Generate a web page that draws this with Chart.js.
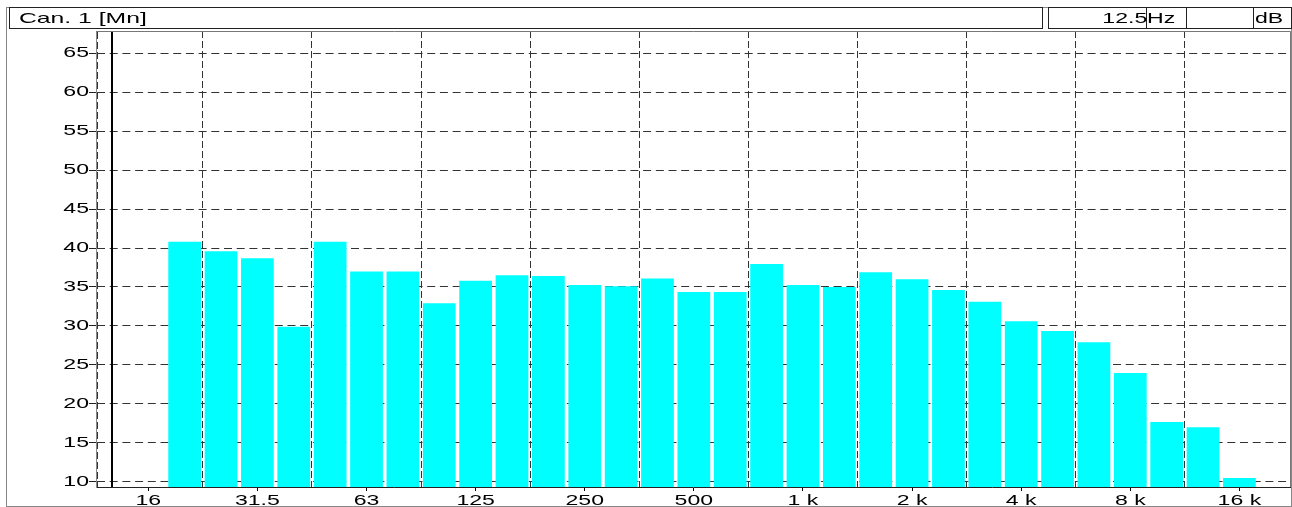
<!DOCTYPE html>
<html>
<head>
<meta charset="utf-8">
<script src="https://cdn.jsdelivr.net/npm/chart.js@4.4.1/dist/chart.umd.min.js"></script>
<style>
  body { margin: 0; background: #fff; font-family: "Liberation Sans", Arial, sans-serif; color: #000; }
  #chart { position: absolute; left: 0; top: 0; }
  #frame { position: absolute; left: 6px; top: 7px; width: 1286px; height: 500px; box-sizing: border-box; border: 1px solid #888; }
  .box { position: absolute; top: 7px; height: 22px; box-sizing: border-box; border: 1px solid #222; }
  .txt { position: absolute; top: 8px; line-height: 20px; font-size: 14px; white-space: nowrap; }
  /* the text in the picture is drawn wide */
  .wide { transform: scaleX(1.648); transform-origin: 0 0; }
  .wide-r { transform: scaleX(1.648); transform-origin: 100% 0; }
</style>
</head>
<body>
<canvas id="chart" width="1292" height="507"></canvas>
<div id="frame"></div>
<div class="box" style="left:9px;width:1034px;"></div>
<div class="box" style="left:1048px;width:139px;"></div>
<div class="box" style="left:1186px;width:68px;"></div>
<div class="box" style="left:1253px;width:39px;"></div>
<div style="position:absolute;left:1146px;top:7px;width:1px;height:22px;background:#222;"></div>
<div class="txt wide" style="left:19px;font-size:15px;">Can. 1 [Mn]</div>
<div class="txt wide-r" style="right:145px;">12.5</div>
<div class="txt wide" style="left:1147px;">Hz</div>
<div class="txt wide" style="left:1255px;">dB</div>
<script>
// 1/3 octave bands, 12.5 Hz .. 20 kHz
const bands = ['12.5', '16', '20', '25', '31.5', '40', '50', '63', '80', '100', '125', '160', '200', '250', '315', '400', '500', '630', '800',
  '1k', '1.25k', '1.6k', '2k', '2.5k', '3.15k', '4k', '5k', '6.3k', '8k', '10k', '12.5k', '16k', '20k'];
// dB levels (Mn)
const levels = [null, null, 40.8, 39.6, 38.7, 29.9, 40.8, 37.0, 37.0, 32.9, 35.8, 36.5, 36.4, 35.25, 35.1, 36.1, 34.35, 34.35, 37.95,
  35.25, 35.0, 36.9, 36.0, 34.6, 33.1, 30.6, 29.35, 27.9, 23.95, 17.66, 17.0, 10.47, null];
const xTickLabels = ['16', '31.5', '63', '125', '250', '500', '1 k', '2 k', '4 k', '8 k', '16 k'];
const yTicks = [10, 15, 20, 25, 30, 35, 40, 45, 50, 55, 60, 65];
const cursorBand = '12.5';

const labelIdx = xTickLabels.map(l => bands.indexOf(l.replace(' ', '')));
const xMin = -0.438, xMax = 32.41;
const gridIdx = labelIdx.map(i => i + 1.5).filter(v => v < xMax);
const xTicks = labelIdx.concat(gridIdx).sort((a, b) => a - b);
const textStretch = 1.648;

const isLabel = (ctx) => ctx.tick && Number.isInteger(ctx.tick.value);

// stretch tick text sideways around its anchor point
const wideText = {
  id: 'wideText',
  beforeInit(chart) {
    const ctx = chart.ctx;
    const fill = ctx.fillText;
    ctx.fillText = function (text, x, y, maxWidth) {
      this.save();
      this.translate(x, y);
      this.scale(textStretch, 1);
      if (maxWidth === undefined) fill.call(this, text, 0, 0);
      else fill.call(this, text, 0, 0, maxWidth / textStretch);
      this.restore();
    };
  }
};

const framePlugin = {
  id: 'frame',
  afterDatasetsDraw(chart) {
    const {ctx, chartArea: a} = chart;
    const px = chart.scales.x.getPixelForValue(bands.indexOf(cursorBand));
    ctx.save();
    ctx.strokeStyle = '#000';
    ctx.lineWidth = 2;
    ctx.beginPath();
    ctx.moveTo(Math.round(px), a.top);
    ctx.lineTo(Math.round(px), a.bottom);
    ctx.stroke();
    ctx.restore();
  },
  afterDraw(chart) {
    const {ctx, chartArea: a} = chart;
    ctx.save();
    ctx.strokeStyle = '#777';
    ctx.lineWidth = 1;
    ctx.beginPath();
    ctx.moveTo(a.left, a.top + 0.5);
    ctx.lineTo(Math.round(a.right) - 0.5, a.top + 0.5);
    ctx.lineTo(Math.round(a.right) - 0.5, a.bottom);
    ctx.stroke();
    ctx.strokeStyle = '#333';
    ctx.setLineDash([7, 3]);
    ctx.beginPath();
    ctx.moveTo(Math.round(a.left) + 1.5, a.top + 1);
    ctx.lineTo(Math.round(a.left) + 1.5, a.bottom);
    ctx.stroke();
    ctx.restore();
  }
};

Chart.defaults.font.family = '"Liberation Sans", Arial, sans-serif';
Chart.defaults.font.size = 14;
Chart.defaults.color = '#000';

new Chart(document.getElementById('chart').getContext('2d'), {
  type: 'bar',
  data: {
    datasets: [{
      label: 'Can. 1 [Mn]',
      data: bands.map((b, i) => ({x: i, y: levels[i]})),
      backgroundColor: '#00ffff',
      borderWidth: 0,
      barPercentage: 0.9,
      categoryPercentage: 1
    }]
  },
  options: {
    responsive: false,
    animation: false,
    devicePixelRatio: 1,
    layout: {padding: {top: 31, right: 1.3, left: 0, bottom: 0}},
    plugins: {legend: {display: false}, tooltip: {enabled: false}},
    scales: {
      x: {
        type: 'linear',
        min: xMin,
        max: xMax,
        offset: false,
        z: 1,
        afterBuildTicks: (axis) => { axis.ticks = xTicks.map(v => ({value: v})); },
        afterFit: (axis) => { axis.height = 20; },
        grid: {
          offset: false,
          lineWidth: 1,
          tickLength: 4,
          color: (ctx) => isLabel(ctx) ? 'rgba(0,0,0,0)' : '#333',
          tickColor: (ctx) => isLabel(ctx) ? '#000' : 'rgba(0,0,0,0)'
        },
        border: {color: '#222', dash: [7, 3]},
        ticks: {
          autoSkip: false,
          maxRotation: 0,
          padding: 2,
          callback: (value) => {
            const k = labelIdx.indexOf(value);
            return k >= 0 ? xTickLabels[k] : '';
          }
        }
      },
      y: {
        min: 9.32,
        max: 67.86,
        z: 1,
        afterBuildTicks: (axis) => { axis.ticks = yTicks.map(v => ({value: v})); },
        afterFit: (axis) => { axis.width = 96; },
        grid: {color: '#333', tickColor: '#222', tickLength: 7},
        border: {color: '#888', dash: [8, 4.7]},
        ticks: {padding: 0}
      }
    }
  },
  plugins: [wideText, framePlugin]
});
</script>
</body>
</html>
